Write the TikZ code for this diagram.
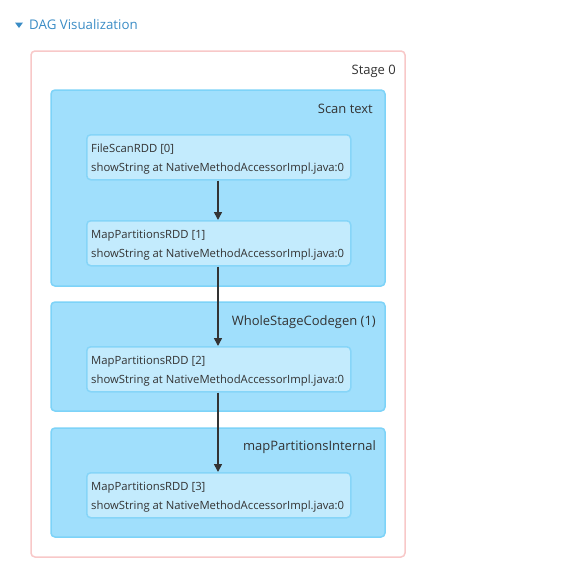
\documentclass[tikz,border=0pt]{standalone}
\usepackage{fontspec}
\setmainfont{Open Sans}
\usetikzlibrary{arrows.meta}
\definecolor{stageborder}{HTML}{F8C8C8}
\definecolor{clusterfill}{HTML}{A0DFFC}
\definecolor{clusterborder}{HTML}{7DD3F8}
\definecolor{rddfill}{HTML}{C3EBFD}
\definecolor{rddborder}{HTML}{86D5F8}
\definecolor{txt}{HTML}{333333}
\definecolor{headblue}{HTML}{3A8CC5}
\tikzset{
  stagebox/.style={draw=stageborder, line width=1.5pt, fill=white, rounded corners=4pt},
  clusterbox/.style={draw=clusterborder, line width=1.5pt, fill=clusterfill, rounded corners=4pt},
  rddnode/.style={rectangle, draw=rddborder, line width=1.5pt, fill=rddfill, rounded corners=4pt,
     minimum width=264pt, minimum height=45pt, anchor=north west, inner sep=0pt},
  rddtext/.style={text=txt, anchor=base west, inner sep=0pt, font=\fontsize{11.3}{12}\selectfont},
  lbl/.style={text=txt, anchor=east, inner sep=0pt, font=\fontsize{13}{15}\selectfont},
  edge/.style={draw=txt, line width=1.6pt, -{Triangle[length=8pt,width=8pt]}}
}
\begin{document}
\begin{tikzpicture}[x=1pt,y=-1pt]
\useasboundingbox (0,0) rectangle (561,562);
% header
\node[inner sep=0pt, anchor=west, text=headblue, font=\fontsize{13.3}{15}\selectfont] (head) at (29,25) {DAG Visualization};
\fill[headblue] (15,22.5) -- (23,22.5) -- (19,28) -- cycle;
% stage
\draw[stagebox] (31,51) rectangle (405,557);
\node[lbl] (stage) at (396,71) {Stage 0};
% clusters
\draw[clusterbox] (51,90) rectangle (385,286);
\node[lbl] (c1) at (373,109) {Scan text};
\draw[clusterbox] (51,302) rectangle (385,411);
\node[lbl] (c2) at (376,322) {WholeStageCodegen (1)};
\draw[clusterbox] (51,428) rectangle (385,537);
\node[lbl] (c3) at (376,447) {mapPartitionsInternal};
% rdd nodes
\foreach \nm/\yy/\title in {r0/134/{FileScanRDD [0]}, r1/220/{MapPartitionsRDD [1]}, r2/346/{MapPartitionsRDD [2]}, r3/472/{MapPartitionsRDD [3]}}{
  \node[rddnode] (\nm) at (86,\yy) {};
  \node[rddtext] at (91,\yy+18) {\title};
  \node[rddtext] at (91,\yy+37) {showString at NativeMethodAccessorImpl.java:0};
}
% edges
\draw[edge] (r0.south -| 218,0) -- (r1.north -| 218,0);
\draw[edge] (r1.south -| 218,0) -- (r2.north -| 218,0);
\draw[edge] (r2.south -| 218,0) -- (r3.north -| 218,0);
\end{tikzpicture}
\end{document}
